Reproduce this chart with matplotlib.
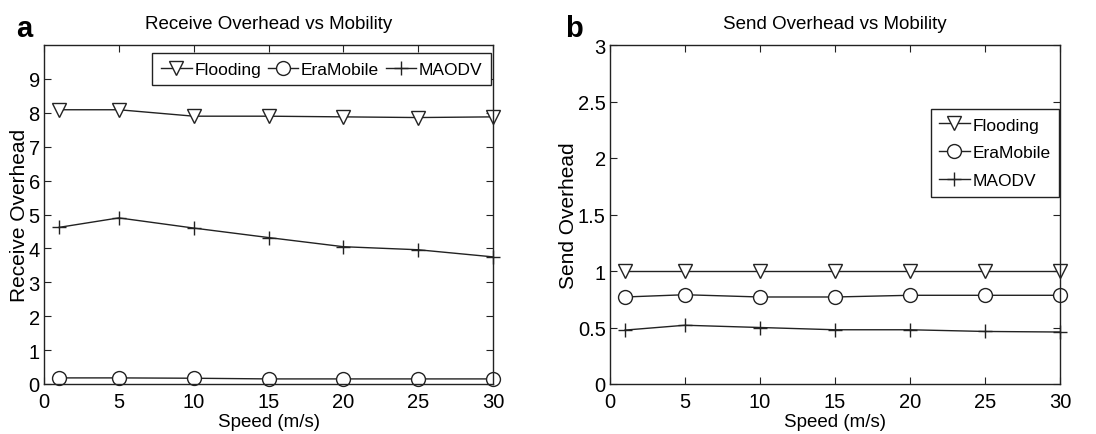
import matplotlib
matplotlib.use("Agg")
import matplotlib.pyplot as plt

plt.rcParams['font.family'] = ['Liberation Sans', 'DejaVu Sans']

speed = [1, 5, 10, 15, 20, 25, 30]

# receive overhead
recv_flooding = [8.09, 8.09, 7.90, 7.90, 7.88, 7.86, 7.88]
recv_eramobile = [0.18, 0.18, 0.17, 0.15, 0.15, 0.15, 0.15]
recv_maodv = [4.62, 4.90, 4.60, 4.32, 4.05, 3.96, 3.75]

# send overhead
send_flooding = [1.0, 1.0, 1.0, 1.0, 1.0, 1.0, 1.0]
send_eramobile = [0.77, 0.79, 0.77, 0.77, 0.785, 0.785, 0.785]
send_maodv = [0.477, 0.52, 0.50, 0.48, 0.48, 0.465, 0.46]

names = ['Flooding', 'EraMobile', 'MAODV']
markers = ['v', 'o', '+']

tick_fs = 14.5
title_fs = 13.5
ylabel_fs = 15
legend_fs = 12.5
col = '#222222'

fig = plt.figure(figsize=(10.96, 4.35), dpi=100)
ax1 = fig.add_axes([44 / 1096, 50 / 435, 449 / 1096, 339 / 435])
ax2 = fig.add_axes([610 / 1096, 50 / 435, 450 / 1096, 339 / 435])


def draw(ax, series, ylim, yticks, ylabel, title):
    for ys, m, n in zip(series, markers, names):
        ax.plot(speed, ys, color=col, lw=1.0, marker=m, markersize=10,
                markerfacecolor='white', markeredgecolor=col, markeredgewidth=1.0,
                label=n, clip_on=False)
    ax.set_xlim(0, 30)
    ax.set_ylim(*ylim)
    ax.set_xticks(range(0, 31, 5))
    ax.set_yticks(yticks)
    ax.tick_params(direction='in', top=True, right=True, length=5,
                   labelsize=tick_fs, color=col)
    ax.tick_params(axis='x', pad=6)
    ax.tick_params(axis='y', pad=3)
    for s in ax.spines.values():
        s.set_color(col)
        s.set_linewidth(1.0)
    ax.set_xlabel('Speed (m/s)', fontsize=title_fs, labelpad=1)
    ax.set_ylabel(ylabel, fontsize=ylabel_fs, labelpad=0)
    ax.set_title(title, fontsize=title_fs, pad=12)


def add_legend(ax, **kw):
    leg = ax.legend(fontsize=legend_fs, frameon=True, fancybox=False, edgecolor=col,
                    framealpha=1, handlelength=1.75, handletextpad=0.15,
                    borderpad=0.5, borderaxespad=0, **kw)
    leg.get_frame().set_linewidth(1.0)
    return leg


draw(ax1, [recv_flooding, recv_eramobile, recv_maodv], (0, 10), range(0, 10),
     'Receive Overhead', 'Receive Overhead vs Mobility')
ax1.set_yticklabels([str(v) for v in range(0, 10)])
draw(ax2, [send_flooding, send_eramobile, send_maodv], (0, 3),
     [0, 0.5, 1, 1.5, 2, 2.5, 3], 'Send Overhead', 'Send Overhead vs Mobility')
ax2.set_yticklabels(['0', '0.5', '1', '1.5', '2', '2.5', '3'])

add_legend(ax1, loc='upper right', bbox_to_anchor=(0.996, 0.977), ncol=3,
           columnspacing=0.4)
add_legend(ax2, loc='upper right', bbox_to_anchor=(0.998, 0.812), labelspacing=0.72)

fig.text(16 / 1096, 1 - 29 / 435, 'a', fontsize=21, fontweight='bold', va='center')
fig.text(565 / 1096, 1 - 29 / 435, 'b', fontsize=21, fontweight='bold', va='center')

fig.savefig('out.png', dpi=100)
